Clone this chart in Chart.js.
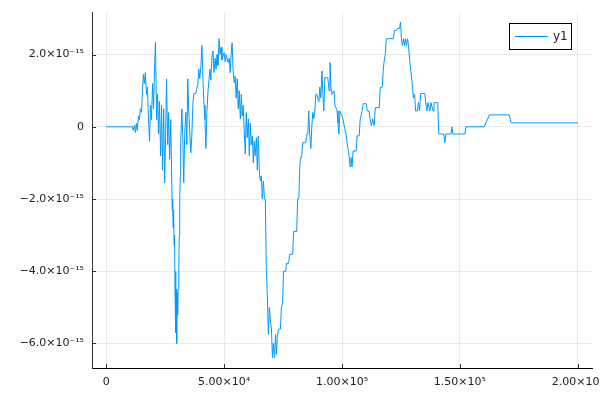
<!DOCTYPE html>
<html>
<head>
<meta charset="utf-8">
<script src="https://cdn.jsdelivr.net/npm/chart.js@4"></script>
<style>
  html, body { margin: 0; padding: 0; background: #fff; }
  #wrap { width: 600px; height: 400px; }
</style>
</head>
<body>
<div id="wrap"><canvas id="chart" width="600" height="400"></canvas></div>
<script>
// ====== Data ======
const seriesName = 'y1';

// x positions
const xValues = [
  0, 11100, 11500, 12000, 12400, 12800, 13200, 13700, 14100, 14500,
  15000, 15400, 15800, 16200, 16600, 17100, 17500, 17900, 18400, 18800,
  19200, 19700, 20100, 20500, 20900, 21400, 21800, 22200, 22600, 23100,
  23500, 23900, 24400, 24800, 25200, 25600, 26100, 26500, 26900, 27400,
  27800, 28000, 28200, 28400, 28600, 28800, 29000, 29200, 29400, 29600,
  29700, 29900, 30100, 30300, 30500, 30800, 31000, 31200, 31400, 31600,
  32100, 32500, 32900, 33300, 33800, 34200, 34600, 35100, 35500, 35900,
  36300, 36800, 37200, 38000, 38900, 39300, 39700, 40200, 40600, 41100,
  41500, 41900, 42300, 42700, 43200, 44000, 44400, 44800, 45300, 45700,
  46200, 46600, 47000, 47400, 47900, 48300, 48700, 49100, 50000, 50500,
  50900, 51700, 52200, 52600, 53000, 53400, 53800, 54300, 54700, 55100,
  55600, 56000, 56400, 56900, 57300, 57700, 58100, 58600, 59000, 59400,
  59800, 60300, 60700, 61100, 61500, 62000, 62400, 62800, 63200, 63700,
  64100, 64500, 65000, 65400, 65800, 66200, 66700, 67100, 67500, 67900,
  68400, 68800, 69200, 69700, 70100, 70500, 70900, 71400, 71800, 72200,
  72600, 73100, 73900, 74300, 74800, 75200, 76100, 76500, 77400, 77800,
  79100, 79500, 80800, 81200, 81700, 82100, 82500, 82900, 83300, 84600,
  85100, 85500, 85900, 86300, 86800, 87200, 87600, 88000, 88500, 88900,
  89300, 90200, 90600, 91000, 91500, 91900, 92300, 92700, 94000, 94500,
  94900, 95300, 95700, 96600, 97000, 97900, 98300, 98700, 99100, 100400,
  101000, 101700, 102300, 103000, 103400, 103800, 104300, 104700, 106000, 106400,
  107300, 107700, 108500, 109000, 110300, 110700, 111500, 111900, 112500, 113000,
  113700, 114100, 115800, 116200, 117100, 117500, 117900, 118400, 118800, 121800,
  122200, 123100, 123500, 124400, 124800, 125200, 125600, 126100, 126500, 126900,
  127300, 127800, 128200, 128600, 129500, 129900, 130300, 130800, 131200, 132000,
  132400, 132900, 133300, 135100, 135500, 136000, 136400, 137300, 137700, 138600,
  139000, 140600, 141000, 143100, 143600, 144000, 146200, 146600, 147000, 152100,
  152500, 160300, 161000, 161800, 162400, 170900, 171700, 200000
];

// y values, in units of 1e-15
const yValuesE15 = [
  0, 0, -0.1, 0.05, -0.16, 0.1, -0.1, 0.3, 0.2, 0.5,
  0.4, 1.0, 1.45, 1.2, 1.5, 0.9, 1.1, 0.3, -0.4, 0.6,
  0.2, 1.2, 0.5, 1.6, 2.34, 0.2, 0.9, -0.2, 0.7, -0.8,
  0.6, -1.2, 0.5, -1.55, -0.3, 1.33, -0.5, 0.4, -0.9, 0.2,
  -1.44, -2.3, -2.0, -2.8, -2.3, -3.3, -3.0, -4.6, -4.0, -5.7,
  -4.5, -6.0, -4.6, -5.2, -4.5, -3.9, -3.0, -2.0, -1.4, -0.45,
  0.5, -0.3, -1.55, -0.2, 0.4, -0.5, 1.33, 0.3, -0.2, -0.72,
  -0.3, 0.67, 0.92, 0.92, 1.2, 1.6, 1.33, 1.7, 2.25, 1.2,
  0.6, 0.2, -0.6, 0.4, 1.0, 1.6, 1.3, 1.9, 2.1, 1.5,
  1.9, 1.6, 2.0, 1.7, 2.44, 2.0, 2.2, 1.85, 2.05, 1.8,
  2.0, 1.78, 1.9, 1.5, 2.0, 2.33, 1.6, 1.22, 1.4, 0.8,
  1.33, 0.5, 1.0, 0.22, 0.9, 0.3, 0.6, -0.2, -0.75, 0.4,
  -0.3, 0.22, -0.8, 0.1, -0.5, -0.25, -1.0, -0.4, -0.8, -0.3,
  -1.2, -0.25, -1.3, -1.5, -1.36, -2.0, -1.5, -2.0, -2.0, -3.9,
  -4.8, -5.75, -5.0, -5.4, -5.6, -6.4, -6.0, -6.4, -5.75, -6.3,
  -5.8, -5.6, -5.6, -5.0, -4.9, -4.0, -4.0, -3.78, -3.78, -3.53,
  -3.53, -2.9, -2.9, -2.0, -2.0, -1.1, -0.85, -0.85, -0.44, -0.44,
  -0.2, -0.2, 0.44, -0.2, -0.6, 0.0, 0.4, 0.22, 0.44, 0.9,
  0.9, 0.7, 1.1, 0.8, 1.55, 0.9, 0.44, 1.36, 1.36, 1.0,
  1.78, 1.1, 0.9, 1.0, 0.6, 0.44, 0.1, -0.2, 0.44, 0.22,
  0.0, -0.2, -0.5, -0.8, -1.1, -0.85, -1.1, -0.67, -0.67, -0.25,
  -0.25, 0.2, 0.44, 0.64, 0.64, 0.44, 0.44, 0.22, 0.03, 0.22,
  0.03, 0.53, 0.53, 1.1, 1.1, 1.6, 1.83, 2.03, 2.44, 2.44,
  2.67, 2.67, 2.72, 2.72, 2.9, 2.44, 2.25, 2.44, 2.25, 2.44,
  2.25, 2.44, 2.25, 1.92, 1.36, 1.1, 0.8, 0.9, 0.44, 0.44,
  0.67, 0.44, 0.92, 0.92, 0.67, 0.44, 0.67, 0.44, 0.67, 0.44,
  0.67, 0.67, -0.2, -0.2, -0.44, -0.2, -0.2, 0.0, -0.2, -0.2,
  0.0, 0.0, 0.11, 0.22, 0.33, 0.33, 0.11, 0.11
];

// ticks
const xTicks = [0, 50000, 100000, 150000, 200000];
const xTickLabels = ['0', '5.00×10⁴', '1.00×10⁵', '1.50×10⁵', '2.00×10⁵'];
const yTicks = [-6, -4, -2, 0, 2];
const yTickLabels = ['−6.0×10⁻¹⁵', '−4.0×10⁻¹⁵', '−2.0×10⁻¹⁵', '0', '2.0×10⁻¹⁵'];

const xMin = -6000, xMax = 206000;
const yMin = -6.68, yMax = 3.18;

const LINE_COLOR = '#009AFA';
const FONT = 'DejaVu Sans';

// ====== Plugins ======
// short inward tick marks like the original frame
const innerTicks = {
  id: 'innerTicks',
  afterDraw(chart) {
    const { ctx, chartArea, scales } = chart;
    ctx.save();
    ctx.strokeStyle = '#333';
    ctx.lineWidth = 1;
    ctx.beginPath();
    xTicks.forEach(v => {
      const px = Math.round(scales.x.getPixelForValue(v)) + 0.5;
      ctx.moveTo(px, chartArea.bottom);
      ctx.lineTo(px, chartArea.bottom - 4);
    });
    yTicks.forEach(v => {
      const py = Math.round(scales.y.getPixelForValue(v)) + 0.5;
      ctx.moveTo(chartArea.left, py);
      ctx.lineTo(chartArea.left + 4, py);
    });
    ctx.stroke();
    ctx.restore();
  }
};

// legend box in the top right corner
const cornerLegend = {
  id: 'cornerLegend',
  afterDraw(chart) {
    const { ctx, chartArea } = chart;
    const w = 62, h = 26;
    const x = chartArea.right - 21 - w;
    const y = chartArea.top + 11;
    ctx.save();
    ctx.fillStyle = '#fff';
    ctx.fillRect(x, y, w, h);
    ctx.strokeStyle = '#000';
    ctx.lineWidth = 1;
    ctx.strokeRect(x + 0.5, y + 0.5, w, h);
    ctx.strokeStyle = LINE_COLOR;
    ctx.beginPath();
    ctx.moveTo(x + 6, y + 13.5);
    ctx.lineTo(x + 39, y + 13.5);
    ctx.stroke();
    ctx.fillStyle = '#222';
    ctx.font = '12px ' + FONT;
    ctx.textBaseline = 'middle';
    ctx.fillText(seriesName, x + 44, y + 14);
    ctx.restore();
  }
};

// ====== Chart ======
const points = xValues.map((x, i) => ({ x, y: yValuesE15[i] }));

new Chart(document.getElementById('chart'), {
  type: 'line',
  data: {
    datasets: [{
      label: seriesName,
      data: points,
      borderColor: LINE_COLOR,
      borderWidth: 1,
      pointRadius: 0,
      tension: 0,
      fill: false
    }]
  },
  options: {
    responsive: false,
    animation: false,
    layout: { padding: { left: 0, right: 8, top: 12, bottom: 0 } },
    plugins: {
      legend: { display: false },
      tooltip: { enabled: false }
    },
    scales: {
      x: {
        type: 'linear',
        min: xMin,
        max: xMax,
        afterBuildTicks: s => { s.ticks = xTicks.map(v => ({ value: v })); },
        afterFit: s => { s.height = 32; s.paddingLeft = 0; s.paddingRight = 0; },
        grid: { color: 'rgba(0,0,0,0.08)', lineWidth: 1, drawTicks: false },
        border: { color: '#000', width: 1 },
        ticks: {
          autoSkip: false,
          maxRotation: 0,
          padding: 8,
          color: '#222',
          font: { family: FONT, size: 11 },
          callback: v => xTickLabels[xTicks.indexOf(v)]
        }
      },
      y: {
        type: 'linear',
        min: yMin,
        max: yMax,
        afterBuildTicks: s => { s.ticks = yTicks.map(v => ({ value: v })); },
        afterFit: s => { s.width = 92; s.paddingTop = 0; s.paddingBottom = 0; },
        grid: { color: 'rgba(0,0,0,0.08)', lineWidth: 1, drawTicks: false },
        border: { color: '#333', width: 1 },
        ticks: {
          padding: 8,
          color: '#222',
          font: { family: FONT, size: 11 },
          callback: v => yTickLabels[yTicks.indexOf(v)]
        }
      }
    }
  },
  plugins: [innerTicks, cornerLegend]
});
</script>
</body>
</html>
